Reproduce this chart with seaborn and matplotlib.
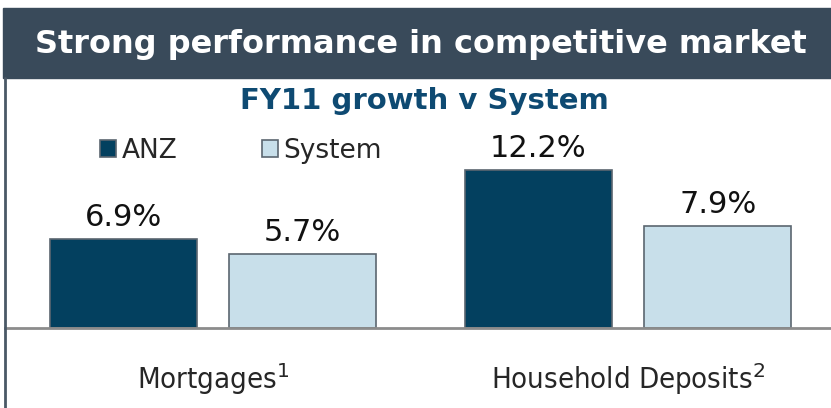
import matplotlib
matplotlib.use("Agg")
import matplotlib.pyplot as plt
import seaborn as sns
import pandas as pd
from matplotlib.patches import Rectangle
from matplotlib.lines import Line2D

# data
categories = ["Mortgages", "Household Deposits"]
series = ["ANZ", "System"]
anz_growth = [6.9, 12.2]
system_growth = [5.7, 7.9]
tick_labels = ["Mortgages$^{1}$", "Household Deposits$^{2}$"]
title = "Strong performance in competitive market"
subtitle = "FY11 growth v System"

W, H = 831, 408
sns.set_style("white")
plt.rcParams["font.family"] = ["DejaVu Sans"]

df = pd.DataFrame({
    "Category": categories * 2,
    "Series": [series[0]] * 2 + [series[1]] * 2,
    "Growth": anz_growth + system_growth,
})

fig = plt.figure(figsize=(W / 100, H / 100), dpi=100)
ax = fig.add_axes([5 / W, 1 - 328 / H, 826 / W, 248 / H])

sns.barplot(
    data=df, x="Category", y="Growth", hue="Series",
    palette=["#03405f", "#c8dfea"], saturation=1,
    width=0.864, gap=0.179,
    edgecolor="#5b6670", linewidth=1.2,
    ax=ax,
)

# value labels
for cont, vals in zip(ax.containers, [anz_growth, system_growth]):
    ax.bar_label(cont, labels=[f"{v:.1f}%" for v in vals], padding=5,
                 fontsize=22, color="#111111")

ax.set_ylim(0, 19.15)
ax.set_xlim(-0.501, 1.489)
ax.set_xlabel("")
ax.set_ylabel("")
ax.set_yticks([])

# x axis
ax.set_xticks([0, 1])
ax.set_xticklabels(tick_labels, fontsize=21, fontstretch="condensed")
ax.tick_params(axis="x", which="major", length=0, pad=24)
ax.set_xticks([0.125], minor=True)
ax.tick_params(axis="x", which="minor", length=7, width=1, color="#8c8c8c", direction="out")

for s in ["left", "top", "right"]:
    ax.spines[s].set_visible(False)
ax.spines["bottom"].set_color("#8c8c8c")
ax.spines["bottom"].set_linewidth(2)

# legend
handles, labels = ax.get_legend_handles_labels()
ax.legend(
    handles, labels,
    loc="center left",
    bbox_to_anchor=(100 / W, 1 - 151 / H),
    bbox_transform=fig.transFigure,
    ncol=2, frameon=False, fontsize=19,
    borderpad=0, borderaxespad=0,
    handlelength=0.62, handleheight=0.62,
    handletextpad=0.2, columnspacing=3.2,
)

# banner
fig.patches.append(Rectangle((3 / W, 1 - 78 / H), 828 / W, 70 / H,
                             transform=fig.transFigure, color="#394a5a", zorder=0))
fig.text(421 / W, 1 - 44 / H, title, color="white", fontsize=23,
         fontweight="bold", ha="center", va="center")

# left border
fig.lines.append(Line2D([5 / W, 5 / W], [0, 1 - 78 / H], transform=fig.transFigure,
                        color="#4a5866", linewidth=2))

# subtitle
fig.text(424 / W, 1 - 101 / H, subtitle, color="#0e4a72", fontsize=21,
         fontweight="bold", ha="center", va="center")

fig.savefig("out.png", dpi=100)
